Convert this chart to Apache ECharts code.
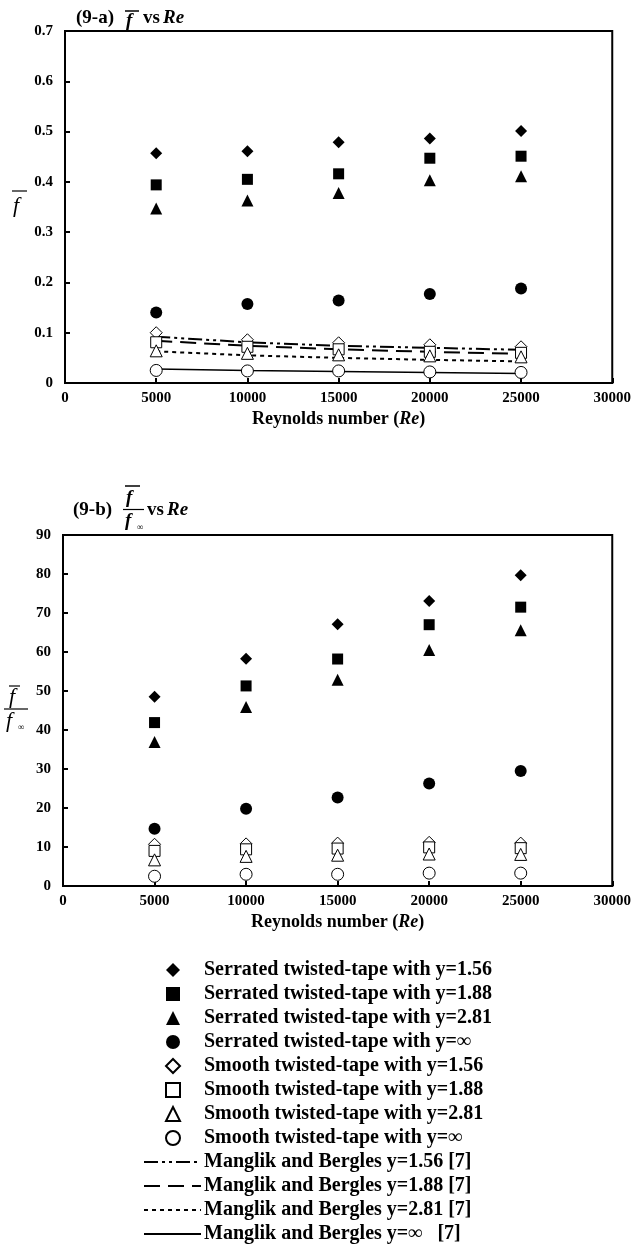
<!DOCTYPE html>
<html>
<head>
<meta charset="utf-8">
<script src="https://cdn.jsdelivr.net/npm/echarts@6/dist/echarts.min.js"></script>
<style>
  html, body { margin: 0; padding: 0; background: #fff; }
  #chart { width: 634px; height: 1247px; }
</style>
</head>
<body>
<div id="chart"></div>
<script>
// ---- data ----
const reynolds = [5000, 10000, 15000, 20000, 25000];
const xTicks = [0, 5000, 10000, 15000, 20000, 25000, 30000];

// (9-a) f vs Re
const a_serr156   = [0.457, 0.461, 0.479, 0.486, 0.501];
const a_serr188   = [0.394, 0.405, 0.416, 0.447, 0.451];
const a_serr281   = [0.347, 0.363, 0.378, 0.403, 0.411];
const a_serrInf   = [0.140, 0.157, 0.164, 0.177, 0.188];
const a_smooth156 = [0.100, 0.086, 0.080, 0.076, 0.072];
const a_smooth188 = [0.081, 0.072, 0.067, 0.062, 0.060];
const a_smooth281 = [0.064, 0.059, 0.056, 0.054, 0.052];
const a_smoothInf = [0.025, 0.024, 0.024, 0.022, 0.021];
const a_mb156     = [0.092, 0.081, 0.074, 0.070, 0.066];
const a_mb188     = [0.084, 0.074, 0.067, 0.062, 0.058];
const a_mb281     = [0.063, 0.055, 0.050, 0.046, 0.043];
const a_mbInf     = [0.028, 0.025, 0.023, 0.021, 0.019];

// (9-b) f / f_inf vs Re
const b_serr156   = [48.5, 58.3, 67.1, 73.1, 79.7];
const b_serr188   = [41.9, 51.3, 58.2, 67.0, 71.5];
const b_serr281   = [36.9, 45.9, 52.9, 60.5, 65.6];
const b_serrInf   = [14.7, 19.8, 22.7, 26.3, 29.5];
const b_smooth156 = [10.7, 10.8, 11.0, 11.2, 11.0];
const b_smooth188 = [9.0, 9.4, 9.6, 9.9, 9.7];
const b_smooth281 = [6.7, 7.6, 7.9, 8.2, 8.1];
const b_smoothInf = [2.5, 3.0, 3.0, 3.3, 3.3];

const names = [
  'Serrated twisted-tape with y=1.56',
  'Serrated twisted-tape with y=1.88',
  'Serrated twisted-tape with y=2.81',
  'Serrated twisted-tape with y=\u221e',
  'Smooth twisted-tape with y=1.56',
  'Smooth twisted-tape with y=1.88',
  'Smooth twisted-tape with y=2.81',
  'Smooth twisted-tape with y=\u221e',
  'Manglik and Bergles y=1.56 [7]',
  'Manglik and Bergles y=1.88 [7]',
  'Manglik and Bergles y=2.81 [7]',
  'Manglik and Bergles y=\u221e   [7]'
];

// ---- styling ----
const SERIF = '"Liberation Serif", "Times New Roman", serif';
const markers = [
  { symbol: 'diamond',  size: 12, fill: '#000' },
  { symbol: 'rect',     size: 11, fill: '#000' },
  { symbol: 'triangle', size: 12, fill: '#000' },
  { symbol: 'circle',   size: 12, fill: '#000' },
  { symbol: 'diamond',  size: 12, fill: '#fff' },
  { symbol: 'rect',     size: 11, fill: '#fff' },
  { symbol: 'triangle', size: 12, fill: '#fff' },
  { symbol: 'circle',   size: 12, fill: '#fff' }
];
const dashes = [[14, 4, 3, 4, 3, 4], [16, 8], [4, 4], 'solid'];
const lineWidths = [2, 2, 2, 1.5];

const zip = (ys) => reynolds.map((x, i) => [x, ys[i]]);

const aScatter = [a_serr156, a_serr188, a_serr281, a_serrInf, a_smooth156, a_smooth188, a_smooth281, a_smoothInf];
const bScatter = [b_serr156, b_serr188, b_serr281, b_serrInf, b_smooth156, b_smooth188, b_smooth281, b_smoothInf];
const aLines = [a_mb156, a_mb188, a_mb281, a_mbInf];

const series = [];
aLines.forEach((ys, i) => {
  series.push({
    name: names[8 + i], type: 'line', xAxisIndex: 0, yAxisIndex: 0,
    data: zip(ys), symbol: 'none', z: 1,
    lineStyle: { color: '#000', width: lineWidths[i], type: dashes[i] },
    itemStyle: { color: '#000' }
  });
});
function scatterSeries(k, ys, gi) {
  const m = markers[k];
  return {
    name: names[k], type: 'scatter', xAxisIndex: gi, yAxisIndex: gi,
    data: zip(ys), symbol: m.symbol, symbolSize: m.size, z: 3,
    itemStyle: { color: m.fill, borderColor: '#000', borderWidth: m.fill === '#fff' ? 1 : 0, opacity: 1 }
  };
}
aScatter.forEach((ys, k) => series.push(scatterSeries(k, ys, 0)));
bScatter.forEach((ys, k) => series.push(scatterSeries(k, ys, 1)));

function xAxisCfg(gi) {
  return {
    type: 'value', gridIndex: gi, min: xTicks[0], max: xTicks[xTicks.length - 1], interval: 5000,
    axisLine: { show: true, onZero: false, lineStyle: { color: '#000', width: 2 } },
    axisTick: { show: true, inside: true, length: 5, lineStyle: { color: '#000', width: 2 } },
    splitLine: { show: false },
    axisLabel: { color: '#000', fontFamily: SERIF, fontWeight: 'bold', fontSize: 15, margin: 8,
                 formatter: (v) => String(v) },
    name: 'Reynolds number ({i|Re})', nameLocation: 'middle', nameGap: 27,
    nameTextStyle: {
      color: '#000', fontFamily: SERIF, fontWeight: 'bold', fontSize: 18,
      rich: { i: { fontFamily: SERIF, fontWeight: 'bold', fontStyle: 'italic', fontSize: 18, color: '#000' } }
    }
  };
}
function yAxisCfg(gi, max, interval) {
  return {
    type: 'value', gridIndex: gi, min: 0, max: max, interval: interval,
    axisLine: { show: true, onZero: false, lineStyle: { color: '#000', width: 2 } },
    axisTick: { show: true, inside: true, length: 5, lineStyle: { color: '#000', width: 2 } },
    splitLine: { show: false },
    axisLabel: { color: '#000', fontFamily: SERIF, fontWeight: 'bold', fontSize: 15, margin: 12 }
  };
}

const tBold = 'bold 19px ' + SERIF;
const tItalicBold = 'italic bold 19px ' + SERIF;
const yItal = 'italic 22px ' + SERIF;
const txt = (text, x, y, font, extra) => Object.assign({
  type: 'text', x: x, y: y, silent: true,
  style: Object.assign({ text: text, font: font, fill: '#000', textVerticalAlign: 'middle', verticalAlign: 'middle' }, extra || {})
});
const ln = (x1, y1, x2, y2, w) => ({
  type: 'line', silent: true, shape: { x1: x1, y1: y1, x2: x2, y2: y2 },
  style: { stroke: '#000', lineWidth: w || 1 }
});

const graphics = [
  // (9-a) title
  txt('(9-a)', 76, 18, tBold),
  txt('f', 126, 21, tItalicBold),
  ln(125, 11, 139, 11, 1.5),
  txt('vs', 143, 18, tBold),
  txt('Re', 163, 18, tItalicBold),
  // top y title
  txt('f', 13, 206, yItal),
  ln(12, 191, 27, 191, 1.2),
  // (9-b) title
  txt('(9-b)', 73, 510, tBold),
  txt('f', 126, 498, tItalicBold),
  ln(125, 486, 140, 486, 1.5),
  ln(123, 509.5, 144, 509.5, 1.2),
  txt('f', 125, 521, tItalicBold),
  txt('\u221e', 137, 528, '9px ' + SERIF),
  txt('vs', 147, 510, tBold),
  txt('Re', 167, 510, tItalicBold),
  // bottom y title
  txt('f', 9, 697, yItal),
  ln(9, 686, 20, 686, 1.2),
  ln(4, 709, 28, 709, 1.2),
  txt('f', 6, 721, yItal),
  txt('\u221e', 18, 728, '9px ' + SERIF)
];

const legendText = { color: '#000', fontFamily: SERIF, fontWeight: 'bold', fontSize: 20 };
const ROW = 24;
const LEG_TOP = 960;

const chart = echarts.init(document.getElementById('chart'), null, { renderer: 'canvas' });
chart.setOption({
  animation: false,
  backgroundColor: '#fff',
  grid: [
    { left: 65, top: 31, width: 550, height: 352, show: true, borderColor: '#000', borderWidth: 2, backgroundColor: 'transparent' },
    { left: 63, top: 535, width: 551, height: 351, show: true, borderColor: '#000', borderWidth: 2, backgroundColor: 'transparent' }
  ],
  xAxis: [xAxisCfg(0), xAxisCfg(1)],
  yAxis: [yAxisCfg(0, 0.7, 0.1), yAxisCfg(1, 90, 10)],
  legend: [
    {
      data: names.slice(0, 8), orient: 'vertical', left: 165, top: LEG_TOP, padding: 0,
      itemWidth: 14, itemHeight: 14, itemGap: 4, symbolKeepAspect: true,
      textStyle: Object.assign({ padding: [0, 0, 0, 19] }, legendText),
      selectedMode: false
    },
    {
      data: names.slice(8), orient: 'vertical', left: 143, top: LEG_TOP + 8 * ROW, padding: 0,
      itemWidth: 57, itemHeight: 14, itemGap: 4,
      itemStyle: { color: 'rgba(0,0,0,0)', borderWidth: 0, borderColor: 'rgba(0,0,0,0)' },
      textStyle: Object.assign({ padding: [0, 0, 0, -2] }, legendText),
      selectedMode: false
    }
  ],
  graphic: graphics,
  series: series
});
</script>
</body>
</html>
